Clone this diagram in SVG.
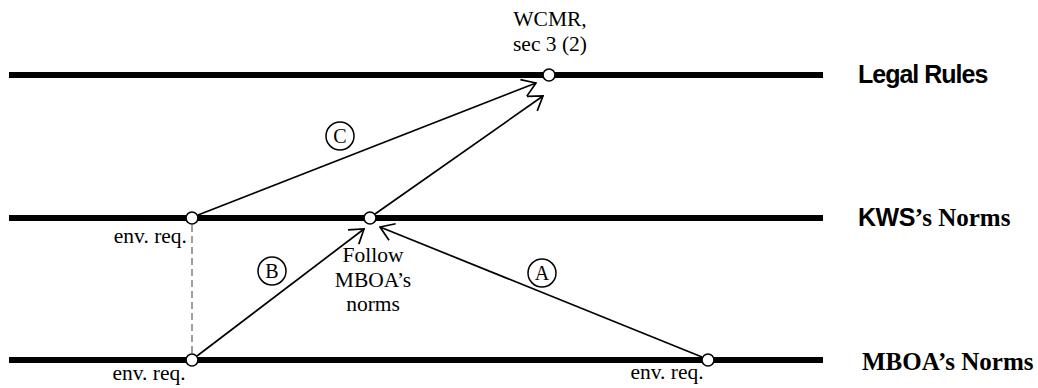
<svg xmlns="http://www.w3.org/2000/svg" width="1038" height="388" viewBox="0 0 1038 388">
  <style>
    .level { stroke: #000; stroke-width: 6; fill: none; }
    .pt { fill: #fff; stroke: #000; stroke-width: 1.6; }
    .link { stroke: #000; stroke-width: 1.7; fill: none; }
    .guide { stroke: #808080; stroke-width: 1.5; stroke-dasharray: 7 4; fill: none; }
    .lbl { font-family: "Liberation Serif", "Times New Roman", serif; font-size: 21.5px; fill: #000; }
    .tag { fill: #fff; stroke: #000; stroke-width: 1.5; }
    .tagtxt { font-family: "Liberation Serif", "Times New Roman", serif; font-size: 20px; fill: #000; text-anchor: middle; }
    .side { font-size: 25px; font-weight: bold; fill: #000; }
    .sans { font-family: "Liberation Sans", Arial, sans-serif; }
    .serif { font-family: "Liberation Serif", "Times New Roman", serif; }
  </style>
  <defs>
    <marker id="chev" viewBox="0 0 16 20" refX="14.5" refY="10" markerWidth="16" markerHeight="20" markerUnits="userSpaceOnUse" orient="auto">
      <path d="M1.2,1.1 L14.5,10 L1.2,18.9" fill="none" stroke="#000" stroke-width="1.7"/>
    </marker>
  </defs>

  <!-- horizontal levels -->
  <g id="levels">
    <line class="level" x1="9" y1="75" x2="823" y2="75"/>
    <line class="level" x1="9" y1="218" x2="823" y2="218"/>
    <line class="level" x1="9" y1="360" x2="823" y2="360"/>
  </g>

  <!-- connectors -->
  <g id="connectors">
    <line class="guide" x1="192" y1="225" x2="192" y2="354"/>
    <line class="link" x1="198" y1="215" x2="536" y2="83" marker-end="url(#chev)"/>
    <line class="link" x1="375" y1="214" x2="543" y2="96" marker-end="url(#chev)"/>
    <line class="link" x1="197" y1="356" x2="364" y2="229" marker-end="url(#chev)"/>
    <line class="link" x1="702" y1="357" x2="380" y2="227" marker-end="url(#chev)"/>
  </g>

  <!-- points on the levels -->
  <g id="node-wcmr">
    <circle class="pt" cx="549" cy="75" r="6"/>
    <text class="lbl" x="550" y="26" text-anchor="middle">WCMR,</text>
    <text class="lbl" x="550" y="51" text-anchor="middle">sec 3 (2)</text>
  </g>
  <g id="node-kws-env">
    <circle class="pt" cx="192" cy="218" r="6"/>
    <text class="lbl" x="187" y="243" text-anchor="end">env. req.</text>
  </g>
  <g id="node-kws-follow">
    <circle class="pt" cx="370" cy="218" r="6"/>
    <text class="lbl" x="373" y="262" text-anchor="middle">Follow</text>
    <text class="lbl" x="373" y="287" text-anchor="middle">MBOA’s</text>
    <text class="lbl" x="373" y="311" text-anchor="middle">norms</text>
  </g>
  <g id="node-mboa-env-left">
    <circle class="pt" cx="192" cy="360" r="6"/>
    <text class="lbl" x="149" y="380" text-anchor="middle">env. req.</text>
  </g>
  <g id="node-mboa-env-right">
    <circle class="pt" cx="708" cy="360" r="6"/>
    <text class="lbl" x="667" y="379" text-anchor="middle">env. req.</text>
  </g>

  <!-- path tags -->
  <g id="tag-a">
    <circle class="tag" cx="542" cy="273" r="14"/>
    <text class="tagtxt" x="542" y="280">A</text>
  </g>
  <g id="tag-b">
    <circle class="tag" cx="272" cy="271" r="14"/>
    <text class="tagtxt" x="272" y="278">B</text>
  </g>
  <g id="tag-c">
    <circle class="tag" cx="340" cy="136" r="14"/>
    <text class="tagtxt" x="340" y="143">C</text>
  </g>

  <!-- level names -->
  <g id="name-legal">
    <text class="side sans" x="858" y="83" letter-spacing="-1">Legal Rules</text>
  </g>
  <g id="name-kws">
    <text class="side" x="858" y="226"><tspan class="sans" letter-spacing="-0.5">KWS</tspan><tspan class="serif">’s Norms</tspan></text>
  </g>
  <g id="name-mboa">
    <text class="side serif" x="862" y="370">MBOA’s Norms</text>
  </g>
</svg>
